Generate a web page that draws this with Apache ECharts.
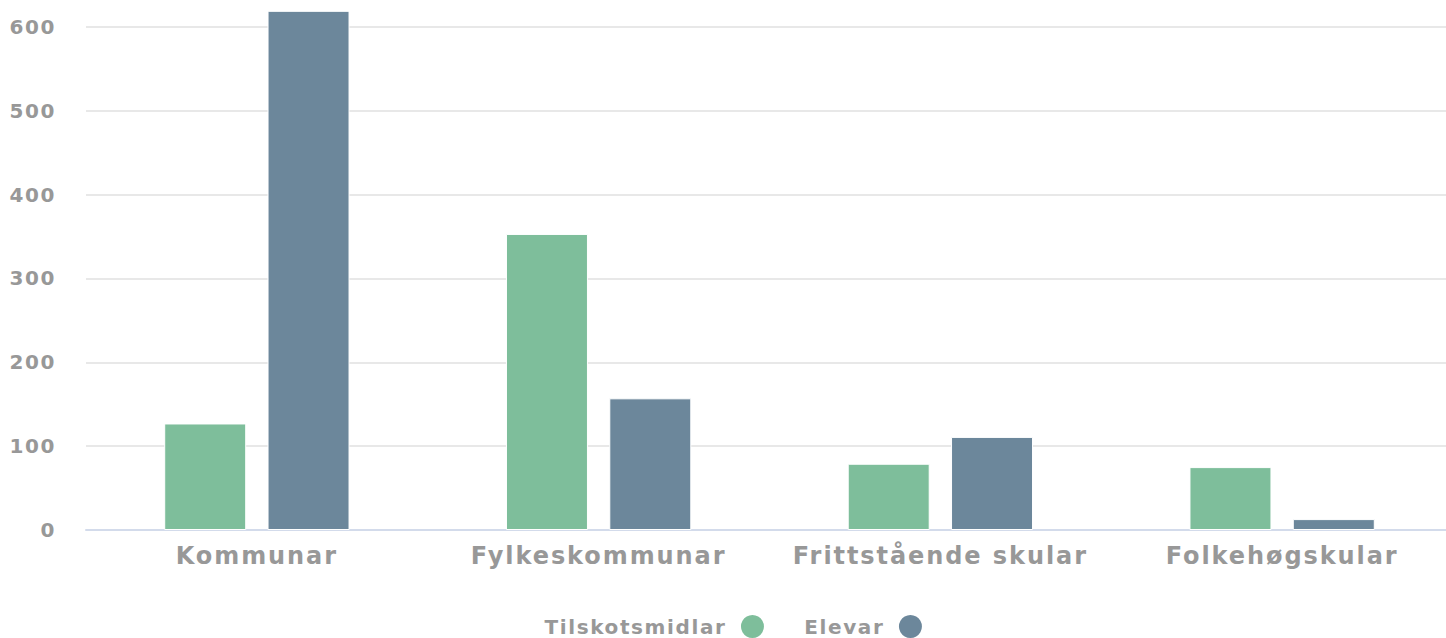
<!DOCTYPE html>
<html>
<head>
<meta charset="utf-8">
<script src="https://cdn.jsdelivr.net/npm/echarts@6/dist/echarts.min.js"></script>
<style>
    html, body { margin: 0; padding: 0; background: #fff; }
    #main { width: 1446px; height: 638px; }
    /* the labels in the original are spaced out a little */
    #main text { letter-spacing: 0.08em; }
</style>
</head>
<body>
<div id="main"></div>
<script>
var categories = ['Kommunar', 'Fylkeskommunar', 'Frittstående skular', 'Folkehøgskular'];
var tilskotData = [127, 353, 79, 75];
var elevarData = [619, 157, 111, 13];
var seriesNames = ['Tilskotsmidlar', 'Elevar'];
var yTicks = [0, 100, 200, 300, 400, 500, 600];

var colors = ['#7ebe9b', '#6c879b'];
var textColor = '#989898';
var fontName = 'DejaVu Sans';

var myChart = echarts.init(document.getElementById('main'), null, {renderer: 'svg'});

var option = {
    color: colors,
    animation: false,
    legend: {
        data: seriesNames,
        left: 562,
        top: 610,
        align: 'right',
        icon: 'circle',
        itemWidth: 42,
        itemHeight: 23,
        itemGap: 50,
        itemStyle: { borderWidth: 0 },
        textStyle: {
            color: textColor,
            fontSize: 20,
            fontWeight: 'bold',
            fontFamily: fontName
        }
    },
    grid: {
        left: 86,
        right: -7,
        top: 10,
        bottom: 108,
        outerBoundsMode: 'none'
    },
    xAxis: {
        type: 'category',
        data: categories,
        axisTick: { show: false },
        axisLine: {
            lineStyle: { color: '#d3dbeb', width: 2 }
        },
        axisLabel: {
            color: textColor,
            fontSize: 24,
            fontWeight: 'bold',
            fontFamily: fontName,
            margin: 14
        }
    },
    yAxis: {
        type: 'value',
        min: yTicks[0],
        max: 620,
        interval: yTicks[1] - yTicks[0],
        axisLine: { show: false },
        axisTick: { show: false },
        splitLine: {
            showMaxLine: false,
            lineStyle: { color: '#e8e8e8', width: 2 }
        },
        axisLabel: {
            color: textColor,
            fontSize: 20,
            fontWeight: 'bold',
            fontFamily: fontName,
            margin: 30,
            showMaxLabel: false
        }
    },
    series: [
        {
            name: seriesNames[0],
            type: 'bar',
            barWidth: 82,
            barGap: '26%',
            itemStyle: { borderColor: '#fff', borderWidth: 1 },
            data: tilskotData
        },
        {
            name: seriesNames[1],
            type: 'bar',
            barWidth: 82,
            barGap: '26%',
            itemStyle: { borderColor: '#fff', borderWidth: 1 },
            data: elevarData
        }
    ]
};

myChart.setOption(option);
window.onresize = myChart.resize;
</script>
</body>
</html>
